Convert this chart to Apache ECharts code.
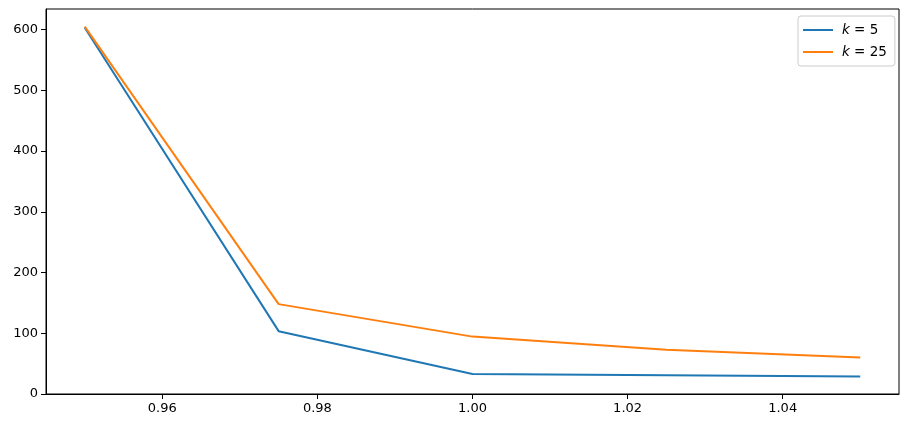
<!DOCTYPE html>
<html><head><meta charset="utf-8">
<script src="https://cdn.jsdelivr.net/npm/echarts@6/dist/echarts.min.js"></script>
<style>html,body{margin:0;padding:0;background:#fff}#c{width:908px;height:428px}</style>
</head><body><div id="c"></div>
<script>
const xValues = [0.95, 0.975, 1.0, 1.025, 1.05];
const k5 = [603, 103.5, 33, 31, 29];
const k25 = [605, 148, 94.5, 73, 60];
const seriesNames = ['k5', 'k25'];
const legendLabels = {k5: '{i|k} = 5', k25: '{i|k} = 25'};
const xTicks = [0.96, 0.98, 1.00, 1.02, 1.04];
const yTicks = [0, 100, 200, 300, 400, 500, 600];

const font = 'DejaVu Sans';
const chart = echarts.init(document.getElementById('c'), null, {renderer: 'canvas'});
chart.setOption({
  animation: false,
  backgroundColor: '#fff',
  grid: {left: 46, right: 9, top: 9, bottom: 34, show: true, borderColor: '#000', borderWidth: 1},
  legend: {
    left: 798, top: 16, orient: 'vertical',
    backgroundColor: 'rgba(255,255,255,0.8)', borderColor: '#ccc', borderWidth: 1, borderRadius: 3,
    padding: [7, 8, 7, 5], itemGap: 8, itemWidth: 30, itemHeight: 2, icon: 'rect',
    formatter: n => legendLabels[n],
    textStyle: {fontFamily: font, fontSize: 13.5, color: '#000', padding: [0, 0, 0, 4],
      rich: {i: {fontFamily: font, fontStyle: 'italic', fontSize: 13.5, color: '#000'}}}
  },
  xAxis: {
    type: 'value', min: 0.945, max: 1.055,
    axisLine: {show: true, lineStyle: {color: '#000'}},
    splitLine: {show: false},
    axisTick: {show: true, length: 5, lineStyle: {color: '#000'}, customValues: xTicks},
    axisLabel: {customValues: xTicks, formatter: v => v.toFixed(2), color: '#000', fontFamily: font, fontSize: 13, margin: 8}
  },
  yAxis: {
    type: 'value', min: 0, max: 634,
    axisLine: {show: true, lineStyle: {color: '#000'}},
    splitLine: {show: false},
    axisTick: {show: true, length: 5, lineStyle: {color: '#000'}, customValues: yTicks},
    axisLabel: {customValues: yTicks, color: '#000', fontFamily: font, fontSize: 13, margin: 8}
  },
  series: [
    {name: seriesNames[0], type: 'line', data: xValues.map((x, i) => [x, k5[i]]), showSymbol: false, symbol: 'none',
     lineStyle: {color: '#1f77b4', width: 2}, itemStyle: {color: '#1f77b4'}},
    {name: seriesNames[1], type: 'line', data: xValues.map((x, i) => [x, k25[i]]), showSymbol: false, symbol: 'none',
     lineStyle: {color: '#ff7f0e', width: 2}, itemStyle: {color: '#ff7f0e'}}
  ]
});
</script></body></html>
